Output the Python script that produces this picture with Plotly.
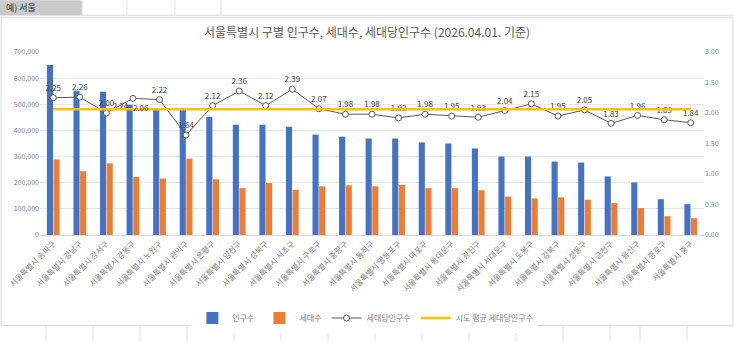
import plotly.graph_objects as go

districts = ["송파구", "강남구", "강서구", "강동구", "노원구", "관악구", "은평구", "양천구", "성북구",
             "서초구", "구로구", "중랑구", "동작구", "영등포구", "마포구", "동대문구", "광진구", "서대문구",
             "도봉구", "강북구", "성동구", "금천구", "용산구", "종로구", "중구"]
categories = ["서울특별시 " + d for d in districts]
population = [650000, 552000, 548000, 498000, 479000, 479000, 452000, 422000, 422000,
              414000, 384000, 376000, 369000, 369000, 354000, 350000, 331000, 300000,
              300000, 281000, 277000, 224000, 201000, 137000, 118000]
households = [289000, 244000, 274000, 222000, 216000, 292000, 213000, 179000, 199000,
              173000, 186000, 190000, 186000, 192000, 179000, 179000, 171000, 147000,
              140000, 144000, 135000, 122000, 103000, 72000, 64000]
per_household = [2.25, 2.26, 2.00, 2.24, 2.22, 1.64, 2.12, 2.36, 2.12, 2.39, 2.07, 1.98, 1.98,
                 1.92, 1.98, 1.95, 1.93, 2.04, 2.15, 1.95, 2.05, 1.83, 1.96, 1.89, 1.84]
city_avg = 2.06
left_ticks = [0, 100000, 200000, 300000, 400000, 500000, 600000, 700000]
right_ticks = [0, 0.5, 1.0, 1.5, 2.0, 2.5, 3.0]

W, H = 734, 343
L, R, T, B = 40, 30, 52, 107
PW, PH = W - L - R, H - T - B

def xp(px):
    return (px - L) / PW

def yp(py):
    return (H - B - py) / PH

FONT = "Noto Sans CJK KR"
GRAY = "#808080"

fig = go.Figure()
fig.add_trace(go.Bar(x=categories, y=population, name="인구수", marker_color="#4472C4",
                     marker_line_width=0))
fig.add_trace(go.Bar(x=categories, y=households, name="세대수", marker_color="#ED7D31",
                     marker_line_width=0))

positions = ["top center"] * len(per_household)
positions[3] = "bottom left"
fig.add_trace(go.Scatter(x=categories, y=per_household, name="세대당인구수", yaxis="y2",
                         mode="lines+markers+text",
                         line=dict(color="#595959", width=1),
                         marker=dict(symbol="circle", size=6, color="white",
                                     line=dict(color="#595959", width=1)),
                         text=[f"{v:.2f}" for v in per_household],
                         textposition=positions,
                         textfont=dict(size=8, color="#404040", family=FONT)))
avg_text = [""] * len(categories)
avg_text[3] = f"{city_avg:.2f}"
fig.add_trace(go.Scatter(x=categories, y=[city_avg] * len(categories), name="시도 평균 세대당인구수",
                         yaxis="y2", mode="lines+text",
                         line=dict(color="#FFC000", width=2.5),
                         text=avg_text, textposition="middle right",
                         textfont=dict(size=8, color="#404040", family=FONT)))

shapes = [
    dict(type="rect", xref="paper", yref="paper", x0=xp(0), x1=xp(82), y0=yp(15), y1=yp(0),
         fillcolor="#C9C9C9", line=dict(width=0), layer="below"),
    dict(type="line", xref="paper", yref="paper", x0=xp(0), x1=xp(734), y0=yp(15), y1=yp(15),
         line=dict(color="#D9D9D9", width=1)),
    dict(type="rect", xref="paper", yref="paper", x0=xp(1), x1=xp(733), y0=yp(327), y1=yp(17),
         fillcolor="rgba(0,0,0,0)", line=dict(color="#D9D9D9", width=1)),
]
for cx in [82, 127, 175, 221]:
    shapes.append(dict(type="line", xref="paper", yref="paper", x0=xp(cx), x1=xp(cx),
                       y0=yp(15), y1=yp(0), line=dict(color="#E0E0E0", width=1)))
for cx in [46, 93, 140, 187, 234, 281, 328, 375, 422, 469, 516, 563, 610, 640, 687]:
    shapes.append(dict(type="line", xref="paper", yref="paper", x0=xp(cx), x1=xp(cx),
                       y0=yp(343), y1=yp(327), line=dict(color="#E0E0E0", width=1)))

fig.update_layout(
    width=W, height=H, margin=dict(l=L, r=R, t=T, b=B),
    paper_bgcolor="white", plot_bgcolor="white",
    font=dict(family=FONT, color=GRAY, size=8),
    title=dict(text="서울특별시 구별 인구수, 세대수, 세대당인구수 (2026.04.01. 기준)",
               x=0.5, xanchor="center", y=1 - 33 / H, yanchor="middle",
               font=dict(size=12, color="#595959", family=FONT)),
    barmode="group", bargap=0.5, bargroupgap=0.08,
    xaxis=dict(tickangle=-45, tickfont=dict(size=8, color=GRAY), showgrid=False,
               showline=True, linecolor="#D9D9D9", ticks="", automargin=False,
               range=[-0.5, len(categories) - 0.5]),
    yaxis=dict(range=[0, 700000], tickvals=left_ticks, tickformat=",", showgrid=True,
               gridcolor="#E6E6E6", zeroline=False, tickfont=dict(size=7, color=GRAY),
               automargin=False),
    yaxis2=dict(range=[0, 3.0], tickvals=right_ticks, tickformat=".2f", overlaying="y",
                side="right", showgrid=False, zeroline=False,
                tickfont=dict(size=7, color=GRAY), automargin=False),
    legend=dict(orientation="h", x=0.49, xanchor="center", y=yp(318), yanchor="middle",
                font=dict(size=8, color=GRAY), itemwidth=30, tracegroupgap=0,
                traceorder="normal"),
    shapes=shapes,
    annotations=[dict(text="예) 서울", xref="paper", yref="paper", x=xp(4), y=yp(7.5),
                      xanchor="left", yanchor="middle", showarrow=False,
                      font=dict(size=9, color="#333333", family=FONT))],
)

fig.write_html("out.html")
